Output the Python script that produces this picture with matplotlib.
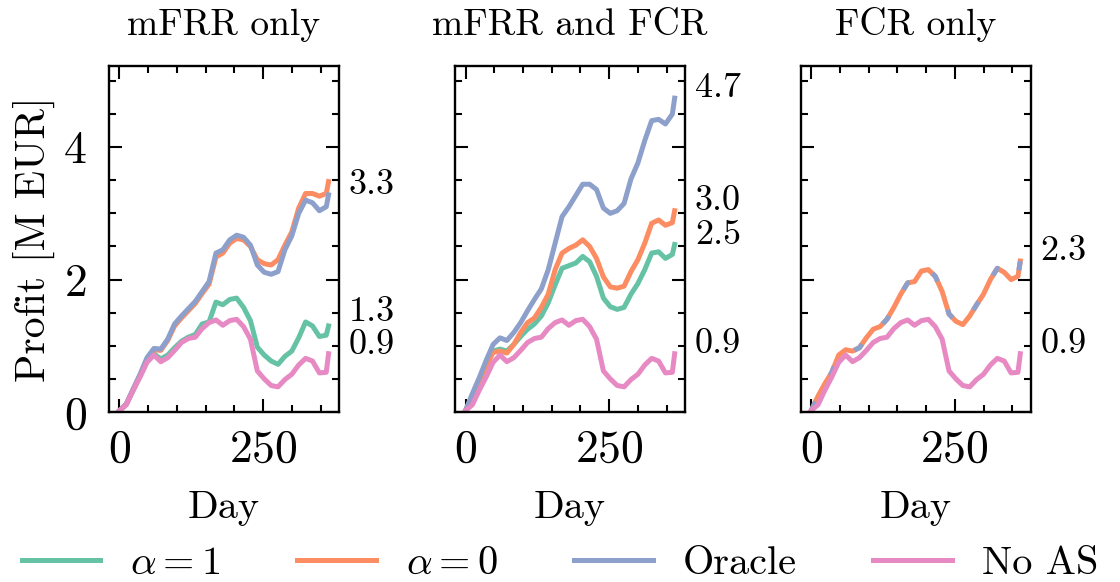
import numpy as np
import matplotlib.pyplot as plt

plt.rcParams['font.family'] = 'cmr10'
plt.rcParams['mathtext.fontset'] = 'cm'
plt.rcParams['axes.formatter.use_mathtext'] = True

# Cumulative profit [M EUR] over one year, sampled every 12 days
days = [0, 12, 24, 36, 48, 60, 72, 84, 96, 108, 120, 132, 144, 156, 168, 180,
        192, 204, 216, 228, 240, 252, 264, 276, 288, 300, 312, 324, 336, 348, 360, 364]

no_as = [0.02, 0.11, 0.33, 0.53, 0.75, 0.86, 0.76, 0.82, 0.93, 1.05, 1.11, 1.13, 1.26, 1.35, 1.39, 1.31,
         1.38, 1.40, 1.29, 1.10, 0.62, 0.50, 0.40, 0.38, 0.49, 0.57, 0.71, 0.81, 0.77, 0.59, 0.60, 0.88]

# mFRR only
alpha1_mfrr = [0.02, 0.12, 0.33, 0.55, 0.78, 0.88, 0.80, 0.86, 0.97, 1.07, 1.13, 1.17, 1.33, 1.36, 1.66, 1.62,
               1.70, 1.72, 1.58, 1.38, 0.98, 0.86, 0.77, 0.72, 0.84, 0.92, 1.12, 1.36, 1.30, 1.14, 1.16, 1.30]
alpha0_mfrr = [0.02, 0.12, 0.34, 0.56, 0.80, 0.94, 0.93, 1.08, 1.30, 1.42, 1.53, 1.64, 1.79, 1.93, 2.34, 2.40,
               2.55, 2.62, 2.60, 2.50, 2.30, 2.24, 2.22, 2.30, 2.52, 2.72, 3.08, 3.30, 3.30, 3.26, 3.30, 3.48]
oracle_mfrr = [0.02, 0.12, 0.35, 0.57, 0.82, 0.96, 0.95, 1.10, 1.33, 1.45, 1.56, 1.67, 1.82, 1.97, 2.40, 2.45,
               2.60, 2.67, 2.64, 2.52, 2.22, 2.11, 2.08, 2.12, 2.45, 2.66, 3.00, 3.20, 3.16, 3.04, 3.10, 3.28]

# mFRR and FCR
alpha1_both = [0.02, 0.24, 0.47, 0.70, 0.92, 0.95, 0.92, 1.02, 1.14, 1.25, 1.33, 1.45, 1.65, 1.92, 2.17, 2.21,
               2.25, 2.35, 2.27, 2.05, 1.72, 1.59, 1.55, 1.58, 1.78, 1.94, 2.15, 2.40, 2.42, 2.32, 2.38, 2.53]
alpha0_both = [0.02, 0.24, 0.48, 0.70, 0.90, 0.92, 0.89, 1.02, 1.20, 1.35, 1.42, 1.58, 1.78, 2.15, 2.40, 2.47,
               2.52, 2.60, 2.50, 2.32, 2.04, 1.89, 1.87, 1.90, 2.12, 2.30, 2.55, 2.85, 2.90, 2.82, 2.86, 3.04]
oracle_both = [0.02, 0.28, 0.52, 0.78, 1.02, 1.12, 1.08, 1.20, 1.35, 1.53, 1.70, 1.86, 2.15, 2.55, 2.95, 3.10,
               3.27, 3.44, 3.44, 3.36, 3.08, 3.00, 3.04, 3.15, 3.52, 3.76, 4.10, 4.40, 4.42, 4.35, 4.50, 4.74]

# FCR only (alpha=0 and oracle coincide)
alpha0_fcr = [0.02, 0.24, 0.43, 0.60, 0.86, 0.94, 0.92, 0.97, 1.12, 1.25, 1.29, 1.40, 1.58, 1.78, 1.95, 1.97,
              2.13, 2.15, 2.05, 1.82, 1.48, 1.37, 1.32, 1.45, 1.62, 1.78, 2.00, 2.17, 2.11, 2.00, 2.05, 2.28]
oracle_fcr = alpha0_fcr

titles = ['mFRR only', 'mFRR and FCR', 'FCR only']
labels = [r'$\alpha=1$', r'$\alpha=0$', 'Oracle', 'No AS']
colors = ['#66c2a5', '#fc8d62', '#8da0cb', '#e78ac3']

panels = [
    {'a1': alpha1_mfrr, 'a0': alpha0_mfrr, 'or': oracle_mfrr, 'ends': ['or', 'a1', 'na']},
    {'a1': alpha1_both, 'a0': alpha0_both, 'or': oracle_both, 'ends': ['or', 'a0', 'a1', 'na']},
    {'a1': None, 'a0': alpha0_fcr, 'or': oracle_fcr, 'ends': ['or', 'na'], 'dashed': True},
]
# small vertical nudges (points) so close end labels don't collide
nudge = {(0, 'a1'): 3, (0, 'na'): -1}

fig = plt.figure(figsize=(11.2, 5.82), dpi=100)
lefts = [0.0973, 0.4063, 0.7149]
axes = []
for i, left in enumerate(lefts):
    ax = fig.add_axes([left, 0.2921, 0.2054, 0.595], sharey=axes[0] if axes else None)
    axes.append(ax)

lw = 3.6
handles = []
for i, (ax, p) in enumerate(zip(axes, panels)):
    series = {'a1': p['a1'], 'a0': p['a0'], 'or': p['or'], 'na': no_as}
    hs = []
    if p['a1'] is not None:
        h, = ax.plot(days, p['a1'], color=colors[0], lw=lw, label=labels[0])
        hs.append(h)
    h, = ax.plot(days, p['a0'], color=colors[1], lw=lw, label=labels[1])
    hs.append(h)
    if p.get('dashed'):
        ax.plot(days, p['or'], color=colors[2], lw=lw, dashes=(2, 6))
    else:
        h, = ax.plot(days, p['or'], color=colors[2], lw=lw, label=labels[2])
        hs.append(h)
    h, = ax.plot(days, no_as, color=colors[3], lw=lw, label=labels[3])
    hs.append(h)
    if i == 1:
        handles = hs

    # final values written next to the right spine
    for key in p['ends']:
        v = series[key][-1]
        ax.annotate(f'{v:.1f}', xy=(1, v), xycoords=('axes fraction', 'data'),
                    xytext=(7, 7 + nudge.get((i, key), 0)), textcoords='offset points',
                    ha='left', va='center', fontsize=26)

    ax.set_title(titles[i], fontsize=27, pad=22)
    ax.set_xlabel('Day', fontsize=29, labelpad=14)
    ax.set_xticks([0, 250])
    ax.set_xticks(np.arange(0, 351, 50), minor=True)
    ax.set_yticks([0, 2, 4])
    ax.set_yticks(np.arange(0, 5.1, 0.5), minor=True)
    ax.set_ylim(0, 5.23)
    ax.tick_params(which='both', direction='in', top=True, right=True, width=1.5)
    ax.tick_params(which='major', length=9.5, labelsize=33, pad=12)
    ax.tick_params(axis='y', which='major', pad=16)
    ax.tick_params(which='minor', length=5)
    for s in ax.spines.values():
        s.set_linewidth(1.7)
    if i > 0:
        ax.tick_params(labelleft=False)

axes[0].set_ylabel('Profit [M EUR]', fontsize=30, labelpad=6)

fig.legend(handles=handles, labels=labels, loc='lower center', bbox_to_anchor=(0.5, -0.062),
           ncol=4, frameon=False, fontsize=29, handlelength=1.95, handletextpad=0.75,
           columnspacing=1.9)

fig.savefig('out.png', dpi=100)
